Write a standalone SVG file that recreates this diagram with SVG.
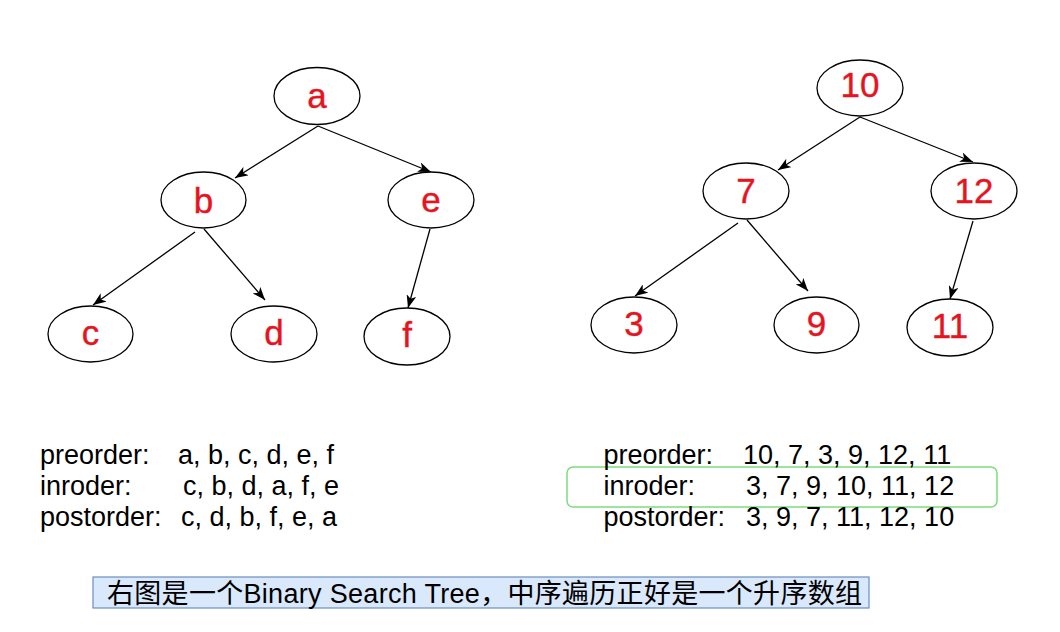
<svg xmlns="http://www.w3.org/2000/svg" width="1060" height="632" viewBox="0 0 1060 632">
<style>
.node ellipse{fill:#ffffff;stroke:#000000;stroke-width:1.3}
.lbl{font-family:"Liberation Sans",Arial,Helvetica,sans-serif;font-size:35px;fill:#e6141e;stroke:#e6141e;stroke-width:0.4;text-anchor:middle}
.edge{stroke:#000000;stroke-width:1.3;fill:none;marker-end:url(#arr)}
.txt{font-family:"Liberation Sans",Arial,Helvetica,sans-serif;font-size:27px;fill:#000000}
.cap{font-family:"Liberation Sans","Noto Sans CJK SC",sans-serif;font-size:27px;fill:#000000}
</style>
<defs>
<marker id="arr" markerUnits="userSpaceOnUse" viewBox="0 0 13 10" refX="13" refY="5" markerWidth="13" markerHeight="10" orient="auto">
<path d="M0,0 L13,5 L0,10 L3.5,5 z" fill="#000000"/>
</marker>
</defs>
<rect width="1060" height="632" fill="#ffffff"/>
<g id="connectors">
<line class="edge" x1="318" y1="126" x2="235" y2="178"/>
<line class="edge" x1="318" y1="126" x2="431" y2="172"/>
<line class="edge" x1="195" y1="232" x2="93" y2="305"/>
<line class="edge" x1="204" y1="229" x2="265" y2="300"/>
<line class="edge" x1="430" y1="229" x2="408" y2="308"/>
<line class="edge" x1="860" y1="117" x2="778" y2="170"/>
<line class="edge" x1="860" y1="117" x2="973" y2="162"/>
<line class="edge" x1="738" y1="223" x2="635" y2="296"/>
<line class="edge" x1="747" y1="220" x2="808" y2="291"/>
<line class="edge" x1="973" y1="221" x2="950" y2="299"/>
</g>
<g id="node-a" class="node"><ellipse cx="317" cy="96" rx="43" ry="28.5"/><text class="lbl" x="317" y="108">a</text></g>
<g id="node-b" class="node"><ellipse cx="203.5" cy="200" rx="42.5" ry="28"/><text class="lbl" x="203.5" y="213">b</text></g>
<g id="node-e" class="node"><ellipse cx="431" cy="200" rx="43" ry="28"/><text class="lbl" x="431" y="212">e</text></g>
<g id="node-c" class="node"><ellipse cx="90.5" cy="334" rx="42.5" ry="28"/><text class="lbl" x="90.5" y="345">c</text></g>
<g id="node-d" class="node"><ellipse cx="274" cy="334" rx="43" ry="28"/><text class="lbl" x="274" y="345">d</text></g>
<g id="node-f" class="node"><ellipse cx="407" cy="336.5" rx="43" ry="28.5"/><text class="lbl" x="407" y="347">f</text></g>
<g id="node-10" class="node"><ellipse cx="860" cy="88" rx="43" ry="28"/><text class="lbl" x="860" y="97">10</text></g>
<g id="node-7" class="node"><ellipse cx="746" cy="191" rx="43" ry="28"/><text class="lbl" x="746" y="203">7</text></g>
<g id="node-12" class="node"><ellipse cx="974" cy="191" rx="43" ry="28"/><text class="lbl" x="974" y="203">12</text></g>
<g id="node-3" class="node"><ellipse cx="634" cy="325" rx="43" ry="28"/><text class="lbl" x="634" y="336">3</text></g>
<g id="node-9" class="node"><ellipse cx="816.5" cy="325" rx="42.5" ry="28"/><text class="lbl" x="816.5" y="336">9</text></g>
<g id="node-11" class="node"><ellipse cx="950" cy="327.5" rx="43" ry="28.5"/><text class="lbl" x="950" y="338">11</text></g>
<g id="traversal-left">
<text class="txt" y="464"><tspan x="40">preorder:</tspan><tspan x="178">a, b, c, d, e, f</tspan></text>
<text class="txt" y="495"><tspan x="40">inroder:</tspan><tspan x="183">c, b, d, a, f, e</tspan></text>
<text class="txt" y="526"><tspan x="40">postorder:</tspan><tspan x="181">c, d, b, f, e, a</tspan></text>
</g>
<g id="traversal-right">
<rect id="highlight" x="567" y="467" width="430" height="40" rx="6" ry="6" fill="none" stroke="#7ddc7d" stroke-width="1.5"/>
<text class="txt" y="464"><tspan x="603.5">preorder:</tspan><tspan x="743">10, 7, 3, 9, 12, 11</tspan></text>
<text class="txt" y="495"><tspan x="603.5">inroder:</tspan><tspan x="746">3, 7, 9, 10, 11, 12</tspan></text>
<text class="txt" y="526"><tspan x="603.5">postorder:</tspan><tspan x="746">3, 9, 7, 11, 12, 10</tspan></text>
</g>
<g id="caption">
<rect x="93" y="577" width="776" height="31" fill="#dae8fc" stroke="#6c8ebf" stroke-width="1.2"/>
<text class="cap" x="107" y="603" textLength="755" lengthAdjust="spacing">右图是一个Binary Search Tree，中序遍历正好是一个升序数组</text>
</g>
</svg>
